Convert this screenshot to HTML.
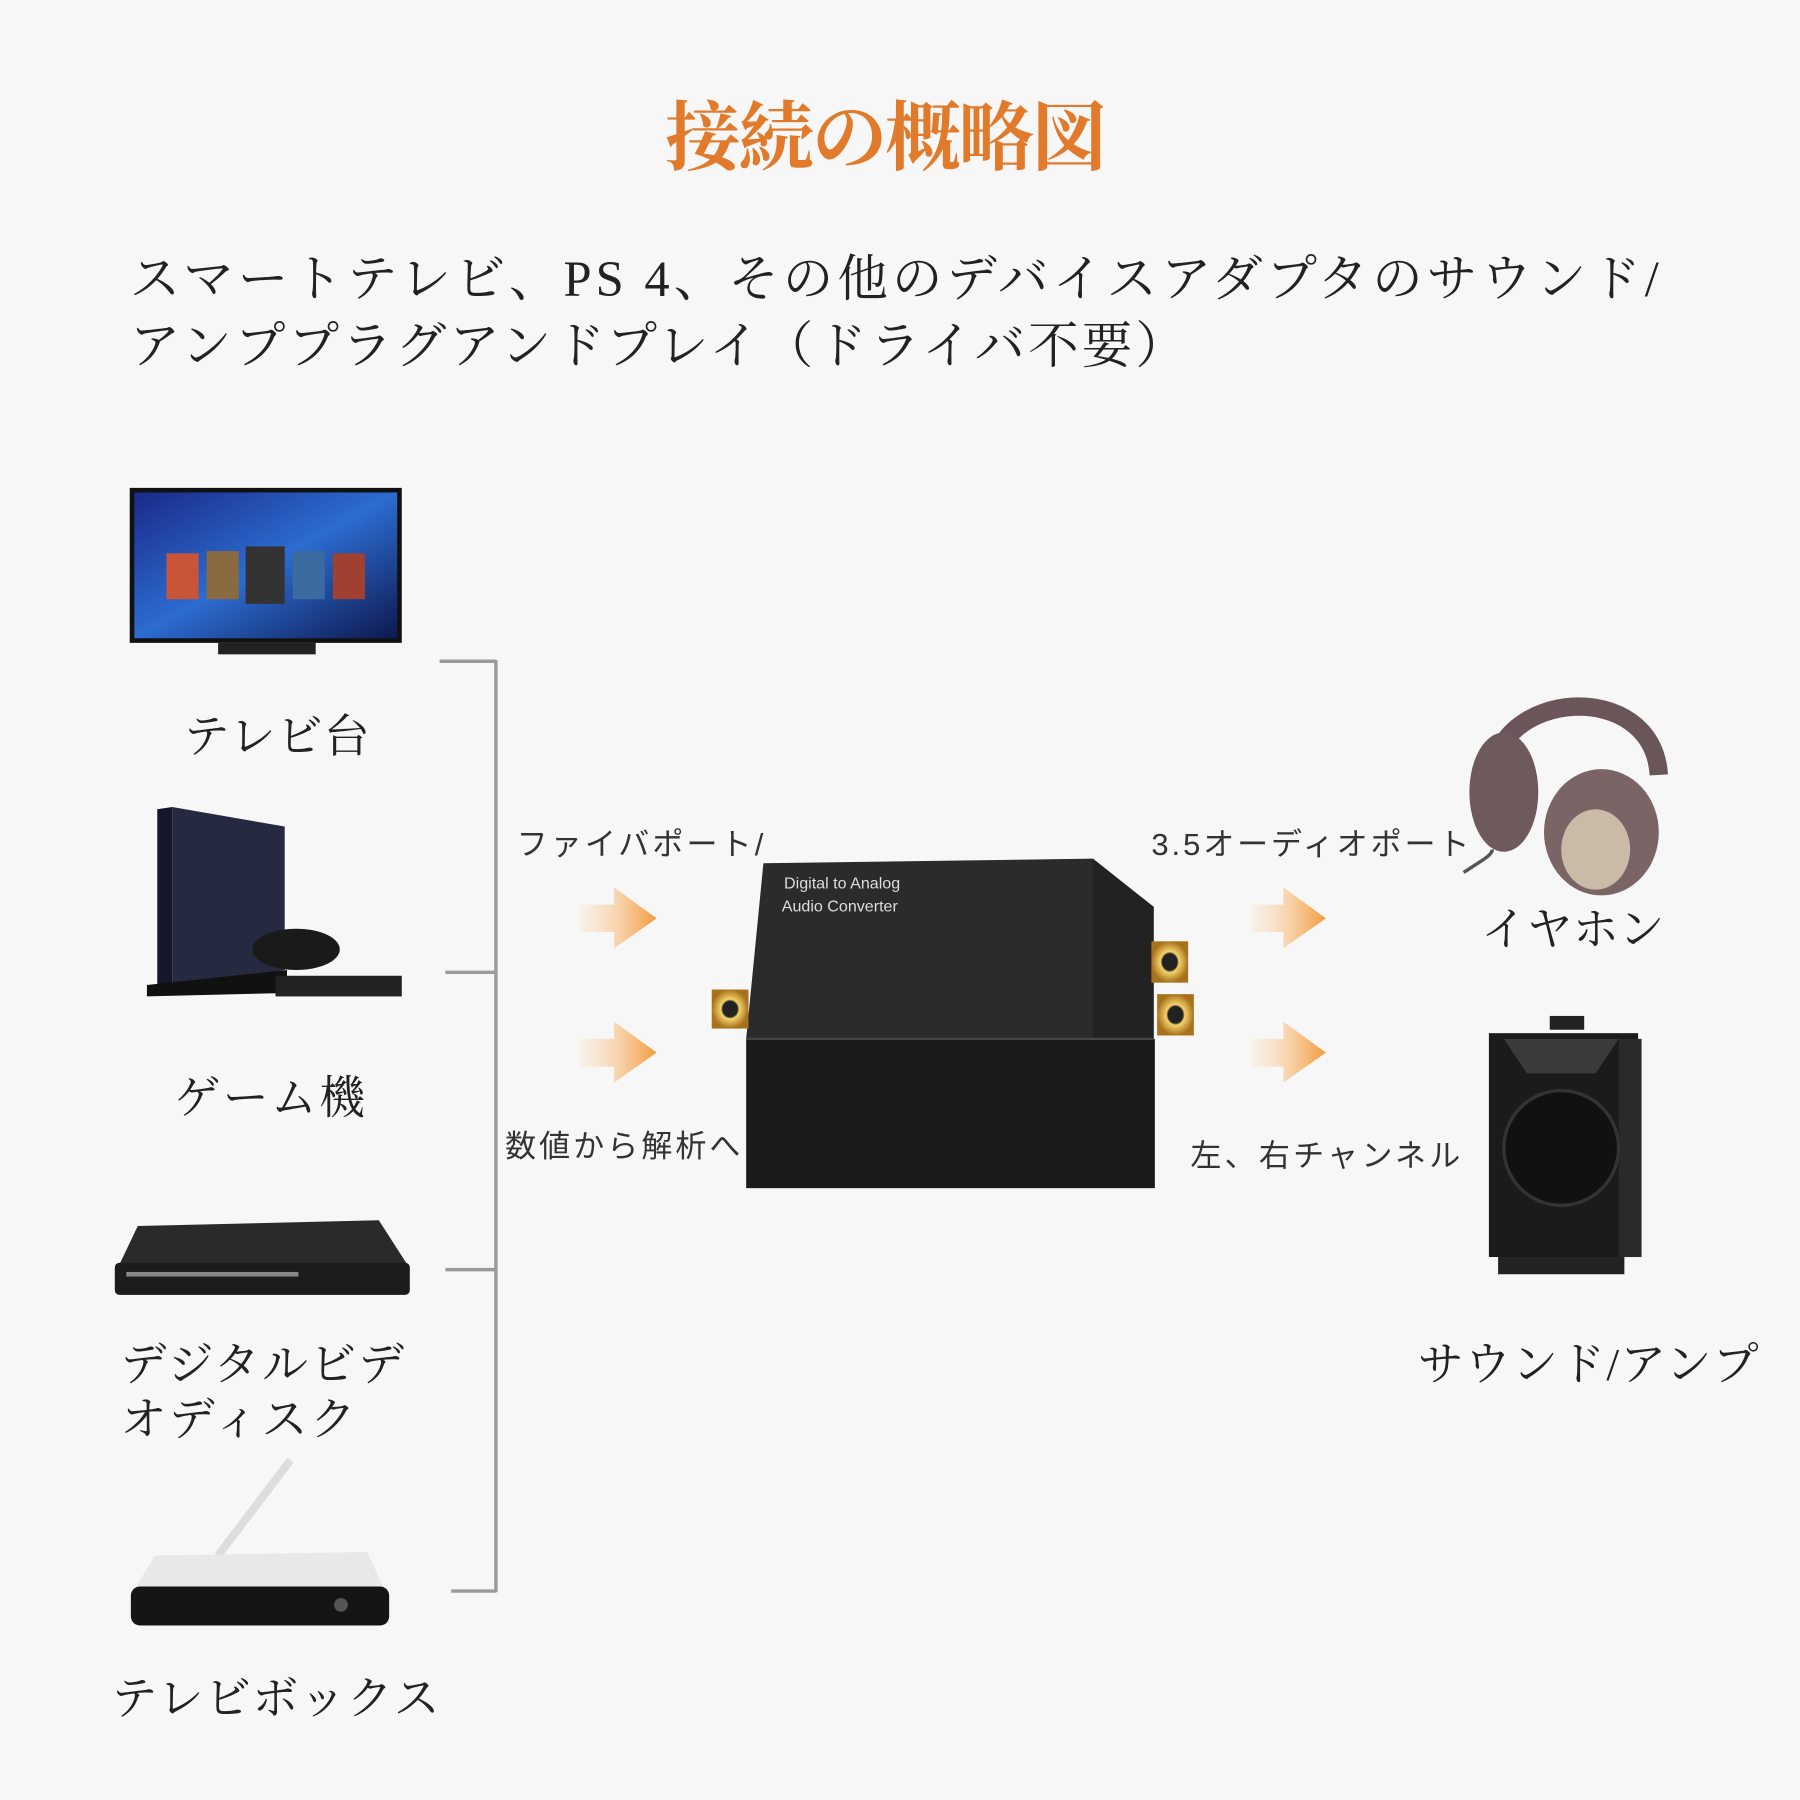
<!DOCTYPE html>
<html><head><meta charset="utf-8"><style>
html,body{margin:0;padding:0;background:#f7f7f7;}
svg{display:block}
.s{font-family:"Liberation Serif","Noto Serif CJK SC","Noto Sans CJK JP",serif;fill:#222}
.g{font-family:"Liberation Sans","Noto Sans CJK JP",sans-serif;fill:#333}
</style></head><body>
<svg width="1800" height="1800" viewBox="0 0 1568 1568" xmlns="http://www.w3.org/2000/svg">
<defs>
<linearGradient id="ar" x1="0" x2="1"><stop offset="0" stop-color="#fbe3c8" stop-opacity="0.3"/><stop offset="1" stop-color="#f39a3a"/></linearGradient>
<linearGradient id="tv" x1="0" y1="0" x2="1" y2="1"><stop offset="0" stop-color="#1a2a8a"/><stop offset="0.5" stop-color="#2c6cd0"/><stop offset="1" stop-color="#0e1850"/></linearGradient>
<radialGradient id="gold"><stop offset="0" stop-color="#222"/><stop offset="0.4" stop-color="#222"/><stop offset="0.5" stop-color="#f5d36a"/><stop offset="1" stop-color="#a8721c"/></radialGradient>
</defs>
<rect width="1568" height="1568" fill="#f7f7f7"/>
<text x="772" y="143" text-anchor="middle" class="s" font-size="66" font-weight="bold" style="fill:#e27a2c" textLength="385">接続の概略図</text>
<text x="113" y="258" class="s" font-size="44" textLength="1332">スマートテレビ、PS 4、その他のデバイスアダプタのサウンド/</text>
<text x="113" y="316" class="s" font-size="44" textLength="920">アンププラグアンドプレイ（ドライバ不要）</text>

<!-- TV -->
<rect x="113" y="425" width="237" height="135" fill="#111"/>
<rect x="117" y="429" width="229" height="127" fill="url(#tv)"/>
<g fill="#c8553a"><rect x="145" y="482" width="28" height="40"/><rect x="180" y="480" width="28" height="42" fill="#8a6a40"/><rect x="214" y="476" width="34" height="50" fill="#333"/><rect x="255" y="480" width="28" height="42" fill="#3a6aa0"/><rect x="290" y="482" width="28" height="40" fill="#a04030"/></g>
<rect x="190" y="560" width="85" height="10" fill="#222"/>
<!-- PS4 -->
<polygon points="137,705 150,703 150,862 137,866" fill="#15182a"/>
<polygon points="150,703 248,720 248,845 150,862" fill="#252a40"/>
<polygon points="128,858 250,845 250,865 128,868" fill="#111"/>
<ellipse cx="258" cy="827" rx="38" ry="18" fill="#1a1a1a"/>
<rect x="240" y="850" width="110" height="18" fill="#222"/>
<!-- DVD -->
<polygon points="120,1068 330,1063 357,1105 100,1110" fill="#2a2a2a"/>
<rect x="100" y="1100" width="257" height="28" rx="4" fill="#1c1c1c"/>
<rect x="110" y="1108" width="150" height="4" fill="#888"/>
<!-- Router -->
<line x1="190" y1="1355" x2="253" y2="1272" stroke="#ddd" stroke-width="7"/>
<polygon points="135,1355 320,1352 335,1385 115,1388" fill="#e8e8e8"/>
<rect x="114" y="1382" width="225" height="34" rx="8" fill="#151515"/>
<circle cx="297" cy="1398" r="6" fill="#555"/>
<!-- bracket -->
<g stroke="#9a9a9a" stroke-width="3" fill="none">
<line x1="432" y1="575" x2="432" y2="1387"/>
<line x1="383" y1="576" x2="432" y2="576"/>
<line x1="388" y1="847" x2="432" y2="847"/>
<line x1="388" y1="1106" x2="432" y2="1106"/>
<line x1="393" y1="1386" x2="432" y2="1386"/>
</g>
<text x="160" y="655" class="s" font-size="40" textLength="162">テレビ台</text>
<text x="152" y="970" class="s" font-size="40" textLength="166">ゲーム機</text>
<text x="105" y="1202" class="s" font-size="40" textLength="247">デジタルビデ</text>
<text x="105" y="1250" class="s" font-size="40" textLength="205">オディスク</text>
<text x="97" y="1493" class="s" font-size="40" textLength="286">テレビボックス</text>

<text x="450" y="745" class="g" font-size="27" textLength="215">ファイバポート/</text>
<text x="440" y="1008" class="g" font-size="27" textLength="205">数値から解析へ</text>
<text x="1003" y="745" class="g" font-size="27" textLength="277">3.5オーディオポート</text>
<text x="1037" y="1016" class="g" font-size="27" textLength="235">左、右チャンネル</text>

<!-- arrows -->
<g fill="url(#ar)">
<polygon points="505,788 535,788 535,773 572,800 535,826 535,812 505,812"/>
<polygon points="505,905 535,905 535,890 572,917 535,943 535,929 505,929"/>
<polygon points="1090,788 1118,788 1118,773 1155,800 1118,826 1118,812 1090,812"/>
<polygon points="1090,905 1118,905 1118,890 1155,917 1118,943 1118,929 1090,929"/>
</g>

<!-- converter -->
<polygon points="665,752 952,748 1005,790 1005,905 650,905" fill="#2b2b2b"/>
<polygon points="952,748 1005,790 1005,925 965,925 952,905" fill="#222"/>
<rect x="650" y="905" width="356" height="130" fill="#1a1a1a"/>
<line x1="650" y1="905" x2="1005" y2="905" stroke="#444" stroke-width="2"/>
<text x="683" y="774" class="g" font-size="14" style="fill:#ddd">Digital to Analog</text>
<text x="681" y="794" class="g" font-size="14" style="fill:#ddd">Audio Converter</text>
<rect x="620" y="862" width="32" height="34" fill="url(#gold)"/>
<rect x="1003" y="820" width="32" height="36" fill="url(#gold)"/>
<rect x="1008" y="866" width="32" height="36" fill="url(#gold)"/>

<text x="1290" y="823" class="s" font-size="40" textLength="160">イヤホン</text>
<text x="1235" y="1202" class="s" font-size="40" textLength="297">サウンド/アンプ</text>

<!-- headphones -->
<path d="M1300,680 C1300,600 1440,590 1445,675" stroke="#6a5558" stroke-width="16" fill="none"/>
<ellipse cx="1310" cy="690" rx="30" ry="52" fill="#6e5a5c"/>
<ellipse cx="1395" cy="725" rx="50" ry="55" fill="#7a6466"/>
<ellipse cx="1390" cy="740" rx="30" ry="35" fill="#c9bba8"/>
<path d="M1275,760 C1290,750 1300,745 1300,740" stroke="#555" stroke-width="3" fill="none"/>
<!-- speaker -->
<rect x="1297" y="900" width="130" height="195" fill="#1b1b1b"/>
<rect x="1410" y="905" width="20" height="190" fill="#2a2a2a"/>
<circle cx="1360" cy="1000" r="50" fill="#111" stroke="#333" stroke-width="3"/>
<polygon points="1310,905 1410,905 1390,935 1330,935" fill="#3a3a3a"/>
<rect x="1350" y="885" width="30" height="12" fill="#222"/>
<rect x="1305" y="1095" width="110" height="15" fill="#222"/>
</svg>
</body></html>
